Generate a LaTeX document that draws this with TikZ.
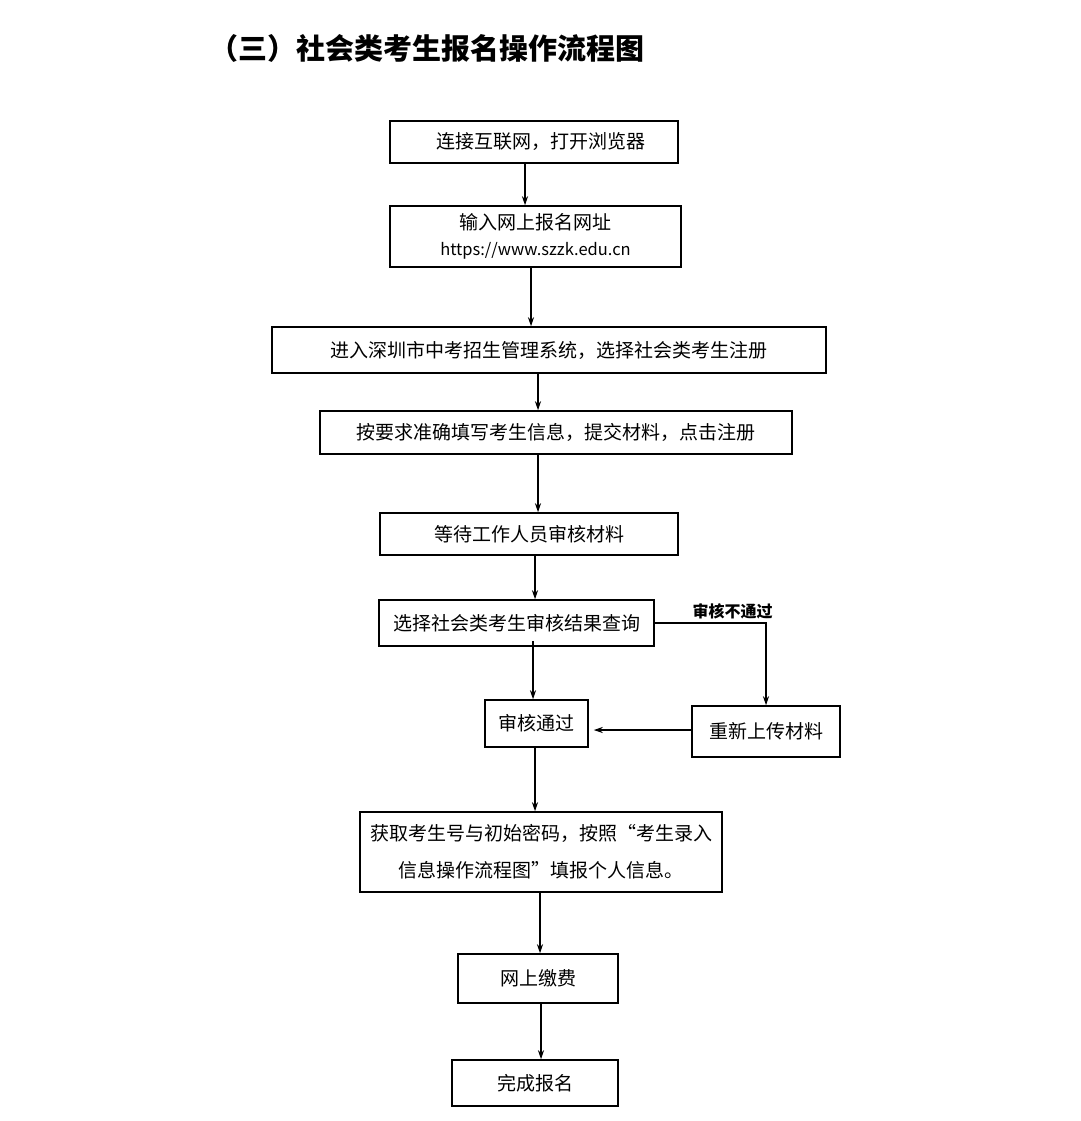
\documentclass[tikz,border=0pt]{standalone}
\usepackage{fontspec}
\setmainfont{Noto Sans CJK SC}
\usetikzlibrary{arrows.meta}

\begin{document}
\begin{tikzpicture}[
    x=1pt, y=-1pt,
    every node/.style={font=\fontsize{19}{30}\selectfont},
    box/.style={draw, line width=1.5pt, inner sep=0pt, align=center},
    arr/.style={draw, line width=1.3pt, -{Stealth[length=9pt,width=6pt]}},
    note/.style={font=\fontsize{16}{18}\selectfont\bfseries}
]
\useasboundingbox (0,0) rectangle (1080,1121);

% title
\node[font=\fontsize{29}{32}\selectfont\bfseries] (title) at (427,48) {（三）社会类考生报名操作流程图};

% steps
\node[box, minimum width=288pt, minimum height=42pt] (connect) at (534,142) {\hspace*{14pt}连接互联网，打开浏览器};
\node[box, minimum width=291pt, minimum height=61pt] (url) at (535.5,236.5) {输入网上报名网址\\[-4pt]{\fontsize{16.5}{20}\selectfont https://www.szzk.edu.cn}};
\node[box, minimum width=554pt, minimum height=46pt] (enter) at (549,350) {进入深圳市中考招生管理系统，选择社会类考生注册};
\node[box, minimum width=472pt, minimum height=43pt] (fill) at (556,432.5) {按要求准确填写考生信息，提交材料，点击注册};
\node[box, minimum width=298pt, minimum height=42pt] (wait) at (529,534) {等待工作人员审核材料};
\node[box, minimum width=275pt, minimum height=46pt] (query) at (516.5,623) {选择社会类考生审核结果查询};
\node[box, minimum width=103pt, minimum height=47pt] (pass) at (536.5,723.5) {审核通过};
\node[box, minimum width=148pt, minimum height=51pt] (reup) at (766,731.5) {重新上传材料};
\node[box, minimum width=362pt, minimum height=80pt, font=\fontsize{19}{37}\selectfont] (getid) at (541,852) {获取考生号与初始密码，按照“考生录入\\信息操作流程图”填报个人信息。};
\node[box, minimum width=160pt, minimum height=49pt] (pay) at (538,978.5) {网上缴费};
\node[box, minimum width=166pt, minimum height=46pt] (done) at (535,1083) {完成报名};

% arrows
\draw[arr] ([xshift=-9pt]connect.south) -- ([xshift=-9pt]connect.south |- url.north);
\draw[arr] ([xshift=-4.5pt]url.south) -- ([xshift=-4.5pt]url.south |- enter.north);
\draw[arr] ([xshift=-11pt]enter.south) -- ([xshift=-11pt]enter.south |- fill.north);
\draw[arr] ([xshift=-18pt]fill.south) -- ([xshift=-18pt]fill.south |- wait.north);
\draw[arr] ([xshift=6pt]wait.south) -- ([xshift=6pt]wait.south |- query.north);
\draw[arr] ([xshift=16.5pt,yshift=6pt]query.south) -- ([xshift=16.5pt]query.south |- pass.north);
\draw[arr] (query.east) -| node[note, pos=0.35, above] {审核不通过} (reup.north);
\draw[arr] ([yshift=1.5pt]reup.west) -- ([xshift=5pt,yshift=1.5pt]reup.west -| pass.east);
\draw[arr] ([xshift=-1.5pt]pass.south) -- ([xshift=-1.5pt]pass.south |- getid.north);
\draw[arr] ([xshift=-1pt]getid.south) -- ([xshift=-1pt]getid.south |- pay.north);
\draw[arr] ([xshift=3pt]pay.south) -- ([xshift=3pt]pay.south |- done.north);
\end{tikzpicture}
\end{document}
